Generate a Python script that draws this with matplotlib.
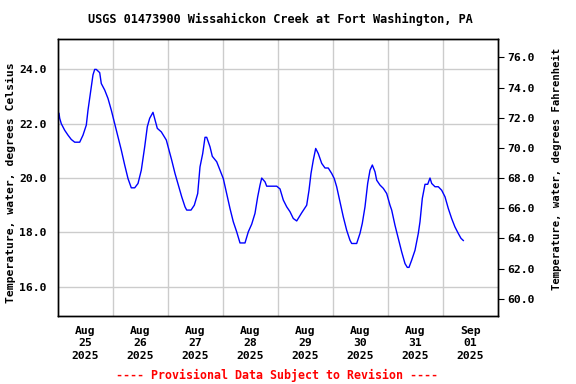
import matplotlib
matplotlib.use("Agg")
import matplotlib.pyplot as plt
import pandas as pd

# hours since 2025-08-25 00:00 and water temperature (deg C)
hours = [0.44, 0.74, 1.44, 2.92, 4.36, 5.80, 7.29, 9.47, 10.91, 12.35, 13.09, 14.09,
         15.27, 16.01, 16.71, 18.20, 18.89, 20.38, 21.82, 23.26, 24.74, 26.18, 27.62,
         29.10, 30.55, 31.98, 33.47, 34.91, 36.35, 37.83, 38.97, 40.01, 41.45, 43.33,
         45.08, 47.26, 49.61, 51.05, 52.49, 53.98, 55.42, 56.16, 58.04, 59.48, 60.96,
         61.96, 63.14, 64.15, 64.89, 66.33, 67.33, 69.25, 70.69, 72.13, 73.61, 75.05,
         76.49, 77.97, 79.42, 81.60, 83.04, 84.52, 85.96, 87.14, 88.15, 88.89, 90.33,
         91.07, 95.43, 96.87, 98.31, 99.80, 101.24, 102.68, 104.16, 106.34, 108.52,
         109.53, 110.40, 111.40, 112.45, 113.58, 115.07, 116.51, 117.93, 119.42,
         120.55, 121.60, 123.04, 124.49, 125.96, 127.40, 128.15, 130.33, 131.77,
         132.78, 133.96, 135.13, 136.15, 137.16, 138.33, 139.07, 140.51, 141.95,
         143.43, 144.87, 145.61, 147.05, 148.49, 149.97, 151.42, 152.42, 153.16,
         154.34, 155.78, 157.22, 157.96, 158.97, 160.15, 161.32, 162.33, 163.07,
         164.51, 165.95, 167.43, 168.87, 170.31, 171.77, 173.21, 174.67, 175.85, 176.86]
temps = [22.38, 22.2, 22.0, 21.76, 21.58, 21.42, 21.32, 21.32, 21.58, 21.95, 22.5, 23.1,
         23.8, 24.0, 24.0, 23.88, 23.48, 23.24, 22.93, 22.5, 22.0, 21.52, 21.03,
         20.48, 19.98, 19.64, 19.64, 19.8, 20.29, 21.15, 21.89, 22.2, 22.42, 21.83,
         21.7, 21.4, 20.66, 20.17, 19.74, 19.31, 18.94, 18.82, 18.82, 19.0, 19.43,
         20.41, 20.9, 21.5, 21.5, 21.15, 20.8, 20.6, 20.29, 19.98, 19.43, 18.88,
         18.39, 18.02, 17.61, 17.61, 18.02, 18.3, 18.7, 19.31, 19.74, 20.0, 19.86,
         19.7, 19.7, 19.6, 19.19, 18.94, 18.76, 18.51, 18.42, 18.72, 19.0,
         19.55, 20.17, 20.66, 21.09, 20.9, 20.54, 20.37, 20.37, 20.17,
         19.98, 19.68, 19.12, 18.57, 18.08, 17.71, 17.59, 17.59, 17.96,
         18.33, 18.94, 19.8, 20.29, 20.48, 20.23, 19.92, 19.74, 19.62,
         19.43, 19.0, 18.82, 18.26, 17.78, 17.28, 16.85, 16.71, 16.71,
         16.98, 17.34, 17.96, 18.39, 19.25, 19.77, 19.77, 20.0, 19.8,
         19.68, 19.68, 19.55, 19.31, 18.88, 18.51, 18.2, 17.96, 17.78, 17.7]

c_ticks = [16.0, 18.0, 20.0, 22.0, 24.0]
f_ticks = [60.0, 62.0, 64.0, 66.0, 68.0, 70.0, 72.0, 74.0, 76.0]
day_labels = ["Aug\n25\n2025", "Aug\n26\n2025", "Aug\n27\n2025", "Aug\n28\n2025",
              "Aug\n29\n2025", "Aug\n30\n2025", "Aug\n31\n2025", "Sep\n01\n2025"]

start = pd.Timestamp("2025-08-25 00:00")
times = [start + pd.Timedelta(hours=h) for h in hours]

mono = "DejaVu Sans Mono"
fig = plt.figure(figsize=(5.76, 3.84), dpi=100)
ax = fig.add_axes([58/576, 68/384, 440/576, 277/384])

ax.plot(times, temps, color="#0000ff", linewidth=1.0)

ylo, yhi = 14.92, 25.12
ax.set_ylim(ylo, yhi)
ax.set_xlim(start, start + pd.Timedelta(days=8))

days = [start + pd.Timedelta(days=d) for d in range(1, 8)]
noons = [start + pd.Timedelta(hours=12 + 24 * d) for d in range(8)]
ax.set_xticks(noons)
ax.set_xticklabels(day_labels, fontfamily=mono, fontweight="bold", fontsize=8.2,
                   linespacing=1.3)
ax.set_xticks(days, minor=True)
ax.tick_params(axis="x", which="both", length=0, pad=7)
ax.grid(True, which="minor", axis="x", color="#cccccc", linewidth=1)

ax.set_yticks(c_ticks)
ax.set_yticklabels([f"{v:.1f}" for v in c_ticks], fontfamily=mono,
                   fontweight="bold", fontsize=8.2)
ax.tick_params(axis="y", length=0, pad=8)
ax.grid(True, which="major", axis="y", color="#cccccc", linewidth=1)
ax.set_axisbelow(True)

ax.set_ylabel("Temperature, water, degrees Celsius", fontfamily=mono,
              fontweight="bold", fontsize=8.2)
ax.yaxis.set_label_coords((16.5 - 58) / 440, 0.48)

ax2 = ax.twinx()
ax2.set_ylim(ylo * 1.8 + 32, yhi * 1.8 + 32)
ax2.set_yticks(f_ticks)
ax2.set_yticklabels([f"{v:.1f}" for v in f_ticks], fontfamily=mono,
                    fontweight="bold", fontsize=8.2)
ax2.tick_params(axis="y", length=4, width=0.8, pad=3, direction="out")
ax2.set_ylabel("Temperature, water, degrees Fahrenheit", fontfamily=mono,
               fontweight="bold", fontsize=7.6, rotation=90)
ax2.yaxis.set_label_coords((552 - 58) / 440, 0.532)

for a in (ax, ax2):
    for s in a.spines.values():
        s.set_linewidth(1.0)
        s.set_color("black")

fig.text(280.5/576, 1 - 19/384, "USGS 01473900 Wissahickon Creek at Fort Washington, PA",
         ha="center", va="center", fontfamily=mono, fontweight="bold", fontsize=8.6)
fig.text(277.5/576, 1 - 375/384, "---- Provisional Data Subject to Revision ----",
         ha="center", va="center", fontfamily=mono, fontweight="bold", fontsize=8.4,
         color="#ff0000")

fig.savefig("out.png", dpi=100)
